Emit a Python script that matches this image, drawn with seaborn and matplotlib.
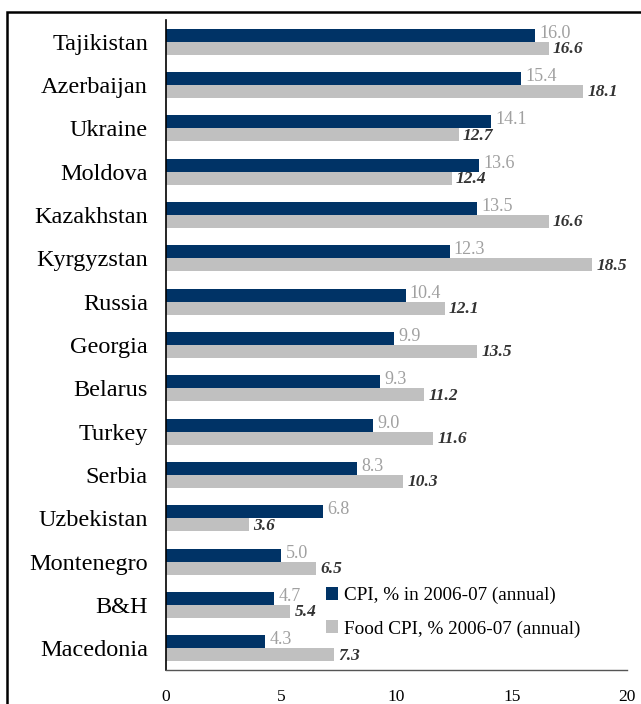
import numpy as np
import pandas as pd
import matplotlib
matplotlib.use("Agg")
import matplotlib.pyplot as plt
from matplotlib.patches import Rectangle
from matplotlib.ticker import FixedLocator
import seaborn as sns

countries = ["Tajikistan", "Azerbaijan", "Ukraine", "Moldova", "Kazakhstan",
             "Kyrgyzstan", "Russia", "Georgia", "Belarus", "Turkey", "Serbia",
             "Uzbekistan", "Montenegro", "B&H", "Macedonia"]
cpi = [16.0, 15.4, 14.1, 13.6, 13.5, 12.3, 10.4, 9.9, 9.3, 9.0, 8.3, 6.8, 5.0, 4.7, 4.3]
food_cpi = [16.6, 18.1, 12.7, 12.4, 16.6, 18.5, 12.1, 13.5, 11.2, 11.6, 10.3, 3.6, 6.5, 5.4, 7.3]
series_names = ["CPI, % in 2006-07 (annual)", "Food CPI, % 2006-07 (annual)"]
x_ticks = [0, 5, 10, 15, 20]

df = pd.DataFrame({
    "country": countries * 2,
    "value": cpi + food_cpi,
    "series": [series_names[0]] * len(countries) + [series_names[1]] * len(countries),
})

sns.set_theme(style="white")
plt.rcParams["font.family"] = ["Liberation Serif", "DejaVu Serif"]
plt.rcParams["text.color"] = "black"
plt.rcParams["xtick.labelcolor"] = "black"
plt.rcParams["ytick.labelcolor"] = "black"

fig = plt.figure(figsize=(6.41, 7.04), dpi=100)
ax = fig.add_axes([166 / 641, 1 - 670 / 704, (627 - 166) / 641, (670 - 20) / 704])

palette = {series_names[0]: "#003366", series_names[1]: "#C0C0C0"}
sns.barplot(data=df, y="country", x="value", hue="series", orient="h",
            palette=palette, width=0.6, gap=0, saturation=1,
            linewidth=0, edgecolor="none", ax=ax, legend=True)

ax.set_xlim(0, 20)
ax.set_ylim(len(countries) - 0.5, -0.5)
ax.set_xlabel("")
ax.set_ylabel("")
ax.set_xticks(x_ticks)
ax.set_xticklabels([str(t) for t in x_ticks], fontsize=12.5)

# category labels centred, tick marks on the category boundaries
ax.set_yticks(range(len(countries)))
ax.set_yticklabels(countries, fontsize=17.5, color="black")
ax.tick_params(axis="y", which="major", length=0, pad=13)
ax.yaxis.set_minor_locator(FixedLocator(np.arange(-0.5, len(countries), 1.0)))
ax.tick_params(axis="y", which="minor", length=6, width=1.2, color="#7f7f7f", direction="out")
ax.tick_params(axis="x", which="major", length=5, width=1.0, color="#7f7f7f",
               direction="out", pad=9, labelcolor="black")

for side in ("top", "right"):
    ax.spines[side].set_visible(False)
ax.spines["left"].set_color("black")
ax.spines["left"].set_linewidth(1.2)
ax.spines["bottom"].set_color("#555555")
ax.spines["bottom"].set_linewidth(1.0)

# value labels
cpi_bars, food_bars = ax.containers[0], ax.containers[1]
for bar, v in zip(cpi_bars, cpi):
    y = bar.get_y() + bar.get_height() / 2
    ax.annotate(f"{v:.1f}", (bar.get_width(), y), xytext=(3, 1.5),
                textcoords="offset points", va="center", ha="left",
                fontsize=13, color="#a0a0a0")
for bar, v in zip(food_bars, food_cpi):
    y = bar.get_y() + bar.get_height() / 2
    ax.annotate(f"{v:.1f}", (bar.get_width(), y), xytext=(3, -0.5),
                textcoords="offset points", va="center", ha="left",
                fontsize=12.5, color="#333333", fontweight="bold", fontstyle="italic")

leg = ax.legend(loc="upper left", bbox_to_anchor=(0.33, 0.14), frameon=False,
                fontsize=13.8, handlelength=0.65, handleheight=0.65,
                handletextpad=0.3, labelspacing=0.85, borderaxespad=0)
for txt in leg.get_texts():
    txt.set_color("black")

# frame around the figure
fig.patches.append(Rectangle((7 / 641, -0.05), 1.1, 1 - 12 / 704 + 0.05,
                             transform=fig.transFigure, fill=False,
                             edgecolor="black", linewidth=1.8))

fig.savefig("out.png", dpi=100)
